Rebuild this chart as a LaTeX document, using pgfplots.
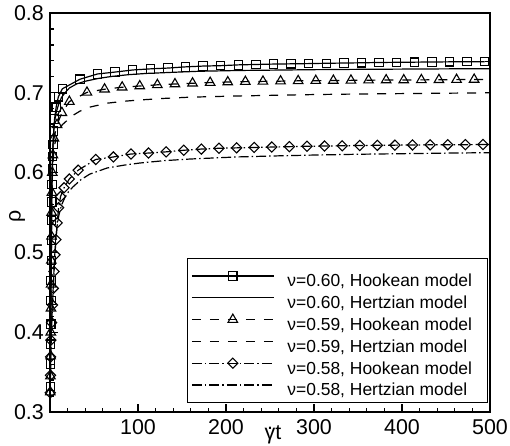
\documentclass[border=0pt]{standalone}
\usepackage{fontspec}
\setmainfont{Liberation Sans}
\usepackage{pgfplots}
\pgfplotsset{compat=1.18}
\begin{document}
\begin{tikzpicture}
\useasboundingbox (-50bp,-34bp) rectangle (460bp,412bp);
\begin{axis}[
  scale only axis, width=440bp, height=399bp,
  xmin=0, xmax=500, ymin=0.3, ymax=0.8,
  clip=false,
  axis line style={line width=2bp},
  xtick={100,200,300,400,500},
  minor xtick={20,40,60,80,120,140,160,180,220,240,260,280,320,340,360,380,420,440,460,480},
  ytick={0.3,0.4,0.5,0.6,0.7,0.8},
  minor ytick={0.32,0.34,0.36,0.38,0.42,0.44,0.46,0.48,0.52,0.54,0.56,0.58,0.62,0.64,0.66,0.68,0.72,0.74,0.76,0.78},
  tick align=inside, tick pos=left,
  major tick length=8bp, minor tick length=4bp,
  every tick/.style={black, line width=1.2bp},
  /pgf/number format/assume math mode=true,
  ticklabel style={font=\fontsize{21.5}{24}\selectfont},
  yticklabel style={/pgf/number format/fixed, /pgf/number format/precision=1, /pgf/number format/fixed zerofill, anchor=east, inner sep=0pt, xshift=-6bp},
  xticklabel style={anchor=center, inner sep=0pt, yshift=-15.5bp},
  xlabel={\ooalign{γ\cr\hidewidth\raisebox{0.5em}{.}\hidewidth\cr}t},
  every axis x label/.style={at={(rel axis cs:0.507,0)}, anchor=center, yshift=-21bp, font=\fontsize{21.5}{24}\selectfont},
  ylabel={ρ},
  every axis y label/.style={at={(rel axis cs:-0.075,0.49)}, anchor=center, rotate=90, font=\fontsize{21.5}{24}\selectfont},
  legend image code/.code={\draw[mark repeat=2,mark phase=2,#1] plot coordinates {(0bp,0bp) (41bp,0bp) (82bp,0bp)};},
  legend style={at={(rel axis cs:0.9955,0.0226)}, anchor=south east, draw=black, line width=1.2bp,
    inner xsep=4bp, inner ysep=6.5bp, row sep=0pt, column sep=13bp,
    font=\fontsize{17.5}{20}\selectfont, nodes={inner sep=0pt, text depth=0pt}},
  legend cell align=left,
]
% nu=0.60 Hookean
\addplot[black, line width=1.2bp, solid, mark=square, mark size=4.2bp, mark options={solid, line width=1.1bp}] coordinates {
(0.3,0.332)(0.5,0.36)(0.7,0.385)(0.9,0.41)(1.1,0.44)(1.3,0.465)(1.5,0.49)(1.7,0.515)(1.9,0.54)(2.1,0.563)(2.4,0.585)(2.7,0.605)(3.0,0.62)(3.5,0.635)(4.2,0.652)(5.2,0.667)(7,0.682)(9.5,0.695)(14,0.705)(34,0.717)(54,0.7236)(74,0.726)(94,0.7286)(114,0.730)(134,0.731)(154,0.7325)(174,0.7335)(194,0.734)(214,0.735)(234,0.7355)(254,0.736)(274,0.7363)(294,0.7366)(314,0.737)(334,0.7373)(354,0.7376)(374,0.738)(394,0.7382)(414,0.7384)(434,0.7386)(454,0.7388)(474,0.739)(494,0.739)};
\addlegendentry{\rule[-0.2bp]{0pt}{22bp}\makebox[196bp][l]{ν=0.60, Hookean model}}
% nu=0.60 Hertzian
\addplot[black, line width=1.2bp, solid] coordinates {
(0,0.32)(0.3,0.36)(0.6,0.42)(1,0.48)(1.5,0.54)(2,0.585)(3,0.625)(4,0.648)(5,0.662)(6.5,0.673)(8,0.679)(10,0.686)(13,0.694)(17,0.70)(22,0.706)(30,0.711)(40,0.7145)(55,0.718)(70,0.7205)(90,0.7228)(110,0.7243)(140,0.7257)(170,0.7270)(216,0.728)(260,0.7285)(300,0.729)(350,0.7294)(400,0.7297)(450,0.73)(500,0.7302)};
\addlegendentry{\rule[-0.2bp]{0pt}{22bp}\makebox[196bp][l]{ν=0.60, Hertzian model}}
% nu=0.59 Hookean
\addplot[black, line width=1.2bp, dash pattern=on 9bp off 9bp, mark=triangle, mark size=5.5bp, mark options={solid, line width=1.1bp}] coordinates {
(0.3,0.325)(0.5,0.345)(0.7,0.37)(0.9,0.40)(1.1,0.43)(1.3,0.46)(1.5,0.49)(1.7,0.52)(1.9,0.55)(2.2,0.575)(2.6,0.60)(3.3,0.622)(4.5,0.643)(8,0.66)(13.5,0.675)(22,0.689)(42,0.7005)(62,0.7045)(82,0.707)(102,0.7085)(122,0.710)(142,0.711)(162,0.712)(182,0.7128)(202,0.7135)(222,0.714)(242,0.7143)(262,0.7146)(282,0.715)(302,0.7152)(322,0.7154)(342,0.7156)(362,0.7158)(382,0.716)(402,0.716)(422,0.7162)(442,0.7163)(462,0.7165)(482,0.7167)};
\addlegendentry{\rule[-0.2bp]{0pt}{22bp}\makebox[196bp][l]{ν=0.59, Hookean model}}
% nu=0.59 Hertzian
\addplot[black, line width=1.2bp, dash pattern=on 9bp off 9bp] coordinates {
(0,0.32)(0.4,0.38)(0.8,0.44)(1.2,0.49)(1.7,0.54)(2.3,0.58)(3,0.605)(4,0.622)(5.5,0.636)(7.5,0.646)(10,0.653)(14,0.66)(18,0.664)(25,0.671)(34,0.677)(45,0.682)(65,0.687)(85,0.6895)(102,0.691)(130,0.693)(159,0.6945)(212,0.696)(260,0.697)(300,0.6978)(350,0.6985)(400,0.699)(450,0.6995)(500,0.700)};
\addlegendentry{\rule[-0.2bp]{0pt}{22bp}\makebox[196bp][l]{ν=0.59, Hertzian model}}
% nu=0.58 Hookean
\addplot[black, line width=1.2bp, dash pattern=on 10bp off 3bp on 1.5bp off 3bp, mark=square, mark size=3.6bp, mark options={solid, rotate=45, line width=1.1bp}] coordinates {
(0.3,0.324)(0.5,0.346)(0.7,0.369)(1.0,0.39)(1.8,0.412)(2.8,0.434)(3.8,0.455)(4.6,0.476)(5.6,0.497)(6.8,0.516)(8.2,0.537)(9.8,0.556)(12,0.570)(16,0.581)(22,0.592)(32,0.603)(52,0.6165)(72,0.6196)(92,0.6233)(112,0.6245)(132,0.626)(152,0.628)(172,0.6295)(192,0.6305)(212,0.631)(232,0.6315)(252,0.632)(272,0.6325)(292,0.633)(312,0.6333)(332,0.6336)(352,0.634)(372,0.6342)(392,0.6344)(412,0.6346)(432,0.6348)(452,0.635)(472,0.635)(492,0.6352)};
\addlegendentry{\rule[-0.2bp]{0pt}{22bp}\makebox[196bp][l]{ν=0.58, Hookean model}}
% nu=0.58 Hertzian
\addplot[black, line width=1.2bp, dash pattern=on 10bp off 3bp on 1.5bp off 3bp] coordinates {
(0,0.32)(0.6,0.35)(1.2,0.38)(2,0.41)(3,0.44)(4,0.465)(5,0.49)(6.5,0.515)(8,0.532)(10,0.546)(13,0.559)(17,0.569)(21,0.576)(26,0.582)(35,0.591)(45,0.598)(65,0.6058)(85,0.6095)(102,0.612)(130,0.615)(159,0.617)(212,0.6196)(260,0.621)(300,0.622)(350,0.623)(400,0.6237)(450,0.6244)(500,0.625)};
\addlegendentry{\rule[-0.2bp]{0pt}{22bp}\makebox[196bp][l]{ν=0.58, Hertzian model}}
% line ends
\addplot[black, line width=1.2bp, solid, forget plot] coordinates {(494,0.739)(500,0.739)};
\addplot[black, line width=1.2bp, dash pattern=on 9bp off 9bp, forget plot] coordinates {(482,0.7167)(500,0.7168)};
\addplot[black, line width=1.2bp, dash pattern=on 10bp off 3bp on 1.5bp off 3bp, forget plot] coordinates {(492,0.6352)(500,0.6353)};
\end{axis}
\end{tikzpicture}
\end{document}
